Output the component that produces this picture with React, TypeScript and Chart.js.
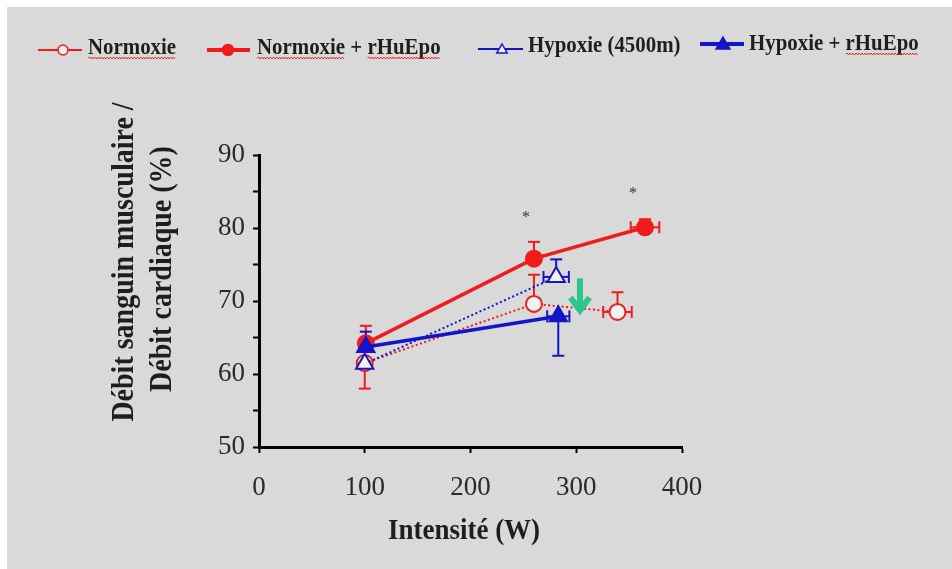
import React, { useEffect, useRef } from 'react';
import { Chart, registerables } from 'chart.js';

Chart.register(...registerables);

// ---------------- data ----------------
const seriesLabels = ['Normoxie', 'Normoxie + rHuEpo', 'Hypoxie (4500m)', 'Hypoxie + rHuEpo'];

const normoxieX = [100, 260, 339];
const normoxieY = [61.5, 69.6, 68.5];
const normoxieErrUp = [0, 4.0, 2.7];
const normoxieErrDown = [3.5, 0, 0];
const normoxieErrX = [0, 0, 13.5];

const normoxieEpoX = [101, 260, 365];
const normoxieEpoY = [64.2, 75.8, 80.1];
const normoxieEpoErrUp = [2.4, 2.3, 1.1];
const normoxieEpoErrDown = [0, 0, 0];
const normoxieEpoErrX = [0, 0, 13.5];

const hypoxieX = [100, 281];
const hypoxieY = [61.4, 73.3];
const hypoxieErrUp = [0, 2.4];
const hypoxieErrDown = [0, 0];
const hypoxieErrX = [0, 12];

const hypoxieEpoX = [101, 283];
const hypoxieEpoY = [63.7, 67.9];
const hypoxieEpoErrUp = [2.1, 0];
const hypoxieEpoErrDown = [0, 5.4];
const hypoxieEpoErrX = [0, 10.5];

const xTickValues = [0, 100, 200, 300, 400];
const yTickValues = [50, 60, 70, 80, 90];
const yMinorTickValues = [55, 65, 75, 85];

const starX = [252.5, 353.7];
const starY = [81.9, 85.2];

const arrowX = [303.5];
const arrowTop = [73.1];
const arrowTip = [68.3];

const xTitle = 'Intensité (W)';
const yTitleLines = ['Débit sanguin musculaire /', 'Débit cardiaque (%)'];

// ---------------- styles ----------------
const FONT = '"Liberation Serif", "Times New Roman", Times, serif';
const RED = '#f01c1c';
const BLUE = '#1414c8';
const OPEN_FILL = '#f2f2f2';
const BG = '#d9d9d9';
const TEXT = '#1e1e1e';
const GREEN = '#2cc68c';

type Series = {
  label: string;
  x: number[];
  y: number[];
  up: number[];
  down: number[];
  ex: number[];
  color: string;
  filled: boolean;
  shape: 'circle' | 'triangle';
  dashed: boolean;
  order: number;
};

const SERIES: Series[] = [
  { label: seriesLabels[0], x: normoxieX, y: normoxieY, up: normoxieErrUp, down: normoxieErrDown, ex: normoxieErrX, color: RED, filled: false, shape: 'circle', dashed: true, order: 4 },
  { label: seriesLabels[1], x: normoxieEpoX, y: normoxieEpoY, up: normoxieEpoErrUp, down: normoxieEpoErrDown, ex: normoxieEpoErrX, color: RED, filled: true, shape: 'circle', dashed: false, order: 3 },
  { label: seriesLabels[2], x: hypoxieX, y: hypoxieY, up: hypoxieErrUp, down: hypoxieErrDown, ex: hypoxieErrX, color: BLUE, filled: false, shape: 'triangle', dashed: true, order: 2 },
  { label: seriesLabels[3], x: hypoxieEpoX, y: hypoxieEpoY, up: hypoxieEpoErrUp, down: hypoxieEpoErrDown, ex: hypoxieEpoErrX, color: BLUE, filled: true, shape: 'triangle', dashed: false, order: 1 },
];

const LEGEND = [
  { x1: 31, x2: 75, y: 43, mx: 56, lw: 2, size: 5, tx: 81, ty: 47, words: ['Normoxie'] },
  { x1: 200, x2: 243, y: 43, mx: 221, lw: 4, size: 5.5, tx: 250, ty: 47, words: ['Normoxie', 'rHuEpo'] },
  { x1: 471, x2: 516, y: 42, mx: 495, lw: 2, size: 6, tx: 521, ty: 45, words: [] as string[] },
  { x1: 693, x2: 737, y: 37, mx: 716, lw: 4, size: 8, tx: 742, ty: 43, words: ['rHuEpo'] },
];
const LEGEND_SX = 0.87;

function line(ctx: CanvasRenderingContext2D, x1: number, y1: number, x2: number, y2: number) {
  ctx.beginPath();
  ctx.moveTo(x1, y1);
  ctx.lineTo(x2, y2);
  ctx.stroke();
}

function triPath(ctx: CanvasRenderingContext2D, cx: number, cy: number, r: number) {
  ctx.beginPath();
  ctx.moveTo(cx, cy - r);
  ctx.lineTo(cx + r * 0.866, cy + r * 0.5);
  ctx.lineTo(cx - r * 0.866, cy + r * 0.5);
  ctx.closePath();
}

const errorBarPlugin = {
  id: 'errorBars',
  beforeDatasetsDraw(chart: any) {
    const { ctx } = chart;
    const xs = chart.scales.x;
    const ys = chart.scales.y;
    const cap = 6;
    ctx.save();
    ctx.lineWidth = 2;
    SERIES.slice().sort((a, b) => b.order - a.order).forEach((s) => {
      ctx.strokeStyle = s.color;
      s.x.forEach((xv, i) => {
        const px = xs.getPixelForValue(xv);
        const py = ys.getPixelForValue(s.y[i]);
        if (s.up[i] > 0) {
          const t = ys.getPixelForValue(s.y[i] + s.up[i]);
          line(ctx, px, py, px, t);
          line(ctx, px - cap, t, px + cap, t);
        }
        if (s.down[i] > 0) {
          const b = ys.getPixelForValue(s.y[i] - s.down[i]);
          line(ctx, px, py, px, b);
          line(ctx, px - cap, b, px + cap, b);
        }
        if (s.ex[i] > 0) {
          const l = xs.getPixelForValue(xv - s.ex[i]);
          const r = xs.getPixelForValue(xv + s.ex[i]);
          line(ctx, l, py, r, py);
          line(ctx, l, py - cap, l, py + cap);
          line(ctx, r, py - cap, r, py + cap);
        }
      });
    });
    ctx.restore();
  },
};

const decorPlugin = {
  id: 'decor',
  afterDraw(chart: any) {
    const { ctx } = chart;
    const xs = chart.scales.x;
    const ys = chart.scales.y;
    ctx.save();

    // asterisks
    ctx.fillStyle = '#333';
    ctx.font = `16px ${FONT}`;
    ctx.textAlign = 'center';
    ctx.textBaseline = 'alphabetic';
    starX.forEach((sx, i) => {
      ctx.fillText('*', xs.getPixelForValue(sx), ys.getPixelForValue(starY[i]) + 8);
    });

    // green arrow
    arrowX.forEach((ax, i) => {
      const px = xs.getPixelForValue(ax);
      const top = ys.getPixelForValue(arrowTop[i]);
      const tip = ys.getPixelForValue(arrowTip[i]);
      ctx.strokeStyle = GREEN;
      ctx.lineWidth = 6;
      ctx.lineCap = 'butt';
      ctx.lineJoin = 'miter';
      line(ctx, px, top, px, tip - 4);
      ctx.beginPath();
      ctx.moveTo(px - 9.5, tip - 16);
      ctx.lineTo(px, tip - 3);
      ctx.lineTo(px + 9.5, tip - 16);
      ctx.stroke();
    });

    // axis titles
    ctx.fillStyle = TEXT;
    ctx.font = `bold 27px ${FONT}`;
    ctx.textAlign = 'center';
    ctx.textBaseline = 'alphabetic';
    ctx.save();
    ctx.translate(457, 532);
    ctx.scale(1, 1.08);
    ctx.fillText(xTitle, 0, 0);
    ctx.restore();

    ctx.font = `bold 28px ${FONT}`;
    const yPos = [
      { x: 126, y: 255 },
      { x: 164, y: 262 },
    ];
    yTitleLines.forEach((t, i) => {
      ctx.save();
      ctx.translate(yPos[i].x, yPos[i].y);
      ctx.rotate(-Math.PI / 2);
      ctx.scale(1, 1.15);
      ctx.fillText(t, 0, 0);
      ctx.restore();
    });

    // legend
    LEGEND.forEach((L, i) => {
      const s = SERIES[i];
      ctx.strokeStyle = s.color;
      ctx.lineWidth = L.lw;
      line(ctx, L.x1, L.y, L.x2, L.y);
      ctx.lineWidth = 1.5;
      if (s.shape === 'circle') {
        ctx.beginPath();
        ctx.arc(L.mx, L.y, L.size, 0, Math.PI * 2);
      } else {
        triPath(ctx, L.mx, L.y + 1, L.size);
      }
      ctx.fillStyle = s.filled ? s.color : OPEN_FILL;
      ctx.fill();
      ctx.stroke();

      ctx.fillStyle = TEXT;
      ctx.font = `bold 24px ${FONT}`;
      ctx.textAlign = 'left';
      ctx.textBaseline = 'alphabetic';
      ctx.save();
      ctx.translate(L.tx, L.ty);
      ctx.scale(LEGEND_SX, 1);
      ctx.fillText(s.label, 0, 0);
      ctx.restore();

      ctx.strokeStyle = '#e03030';
      ctx.lineWidth = 1;
      L.words.forEach((w) => {
        const idx = s.label.indexOf(w);
        const x0 = L.tx + ctx.measureText(s.label.slice(0, idx)).width * LEGEND_SX;
        const x1 = x0 + ctx.measureText(w).width * LEGEND_SX;
        const base = L.ty + 4;
        ctx.beginPath();
        let up = true;
        ctx.moveTo(x0, base);
        for (let xx = x0 + 1.5; xx <= x1; xx += 1.5) {
          ctx.lineTo(xx, base + (up ? -1 : 1));
          up = !up;
        }
        ctx.stroke();
      });
    });

    ctx.restore();
  },
};

export default function App() {
  const ref = useRef<HTMLCanvasElement | null>(null);

  useEffect(() => {
    if (!ref.current) return;
    const datasets = SERIES.map((s) => ({
      label: s.label,
      data: s.x.map((xv, i) => ({ x: xv, y: s.y[i] })),
      showLine: true,
      borderColor: s.color,
      borderWidth: s.dashed ? 2 : 3.5,
      borderDash: s.dashed ? [2, 2.5] : [],
      pointStyle: s.shape,
      pointRadius: s.shape === 'circle' ? 8 : 10,
      pointBackgroundColor: s.filled ? s.color : OPEN_FILL,
      pointBorderColor: s.color,
      pointBorderWidth: 2,
      order: s.order,
      clip: false as any,
    }));

    const gridCommon = {
      display: true,
      drawOnChartArea: false,
      drawTicks: true,
      tickLength: 6,
      tickWidth: 2,
      tickColor: '#000',
    };

    const chart = new Chart(ref.current, {
      type: 'scatter',
      data: { datasets },
      plugins: [errorBarPlugin, decorPlugin],
      options: {
        responsive: false,
        animation: false,
        events: [],
        layout: { padding: { left: 172, right: 270, top: 148, bottom: 62 } },
        plugins: {
          legend: { display: false },
          tooltip: { enabled: false },
          title: { display: false },
        },
        scales: {
          x: {
            type: 'linear',
            min: 0,
            max: 400,
            afterFit: (s: any) => {
              s.height = 60;
            },
            afterBuildTicks: (s: any) => {
              s.ticks = xTickValues.map((v) => ({ value: v }));
            },
            grid: gridCommon,
            border: { display: true, color: '#000', width: 3 },
            ticks: {
              color: '#2a2a2a',
              font: { family: FONT, size: 27 },
              padding: 19,
              maxRotation: 0,
              callback: (v: any) => String(v),
            },
          },
          y: {
            type: 'linear',
            min: 50,
            max: 90,
            afterFit: (s: any) => {
              s.width = 80;
            },
            afterBuildTicks: (s: any) => {
              s.ticks = [...yTickValues, ...yMinorTickValues]
                .sort((a, b) => a - b)
                .map((v) => ({ value: v }));
            },
            grid: gridCommon,
            border: { display: true, color: '#000', width: 3 },
            ticks: {
              color: '#2a2a2a',
              font: { family: FONT, size: 27 },
              padding: 8,
              callback: (v: any) => (yTickValues.includes(Number(v)) ? String(v) : ''),
            },
          },
        },
      },
    });
    return () => chart.destroy();
  }, []);

  return (
    <div
      style={{
        position: 'fixed',
        left: 7,
        top: 7,
        width: 945,
        height: 562,
        background: BG,
        overflow: 'hidden',
      }}
    >
      <canvas ref={ref} width={945} height={562} style={{ display: 'block', width: 945, height: 562 }} />
    </div>
  );
}
